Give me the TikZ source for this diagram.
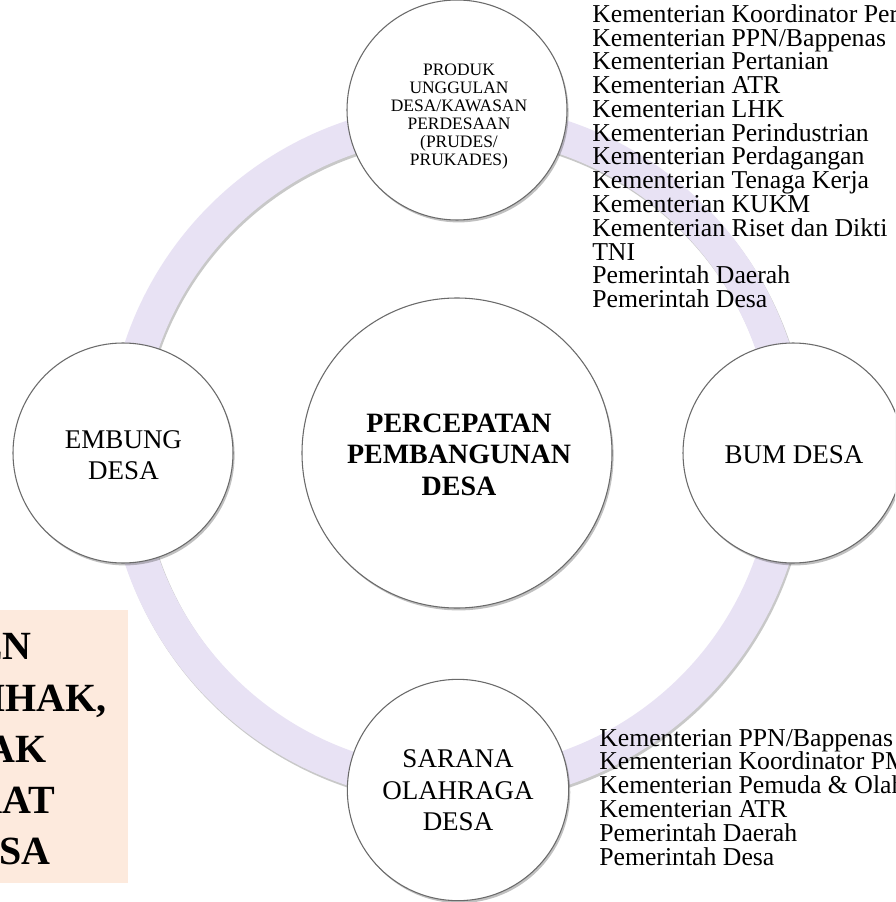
\documentclass[tikz,border=0pt]{standalone}
\usepackage{fontspec}
\setmainfont{Liberation Serif}
\usetikzlibrary{shadows}
\definecolor{ringc}{HTML}{E8E2F4}
\definecolor{peach}{HTML}{FDEADD}
\definecolor{edgec}{HTML}{6A6A6A}
\tikzset{
  bubble/.style={circle, draw=edgec, line width=0.8pt, fill=white, inner sep=0pt,
    drop shadow={shadow xshift=1.2pt, shadow yshift=-1.8pt, opacity=0.35, fill=black!70}},
  linetxt/.style={inner sep=0pt, anchor=base},
  listtxt/.style={inner sep=0pt, anchor=base west, font=\fontsize{19.3pt}{20pt}\selectfont},
  smalltxt/.style={linetxt, font=\fontsize{13.1pt}{14pt}\selectfont},
  midtxt/.style={linetxt, font=\fontsize{20.25pt}{22pt}\selectfont},
  hubtxt/.style={linetxt, font=\fontsize{21pt}{23pt}\selectfont\bfseries},
  boxtxt/.style={inner sep=0pt, anchor=base east, font=\fontsize{30pt}{32pt}\selectfont\bfseries},
}
\begin{document}
\begin{tikzpicture}[x=0.75pt,y=-0.75pt]
\useasboundingbox (0,0) rectangle (895,902);
\clip (0,0) rectangle (895,902);
\fill[white] (0,0) rectangle (895,902);
\coordinate (hub) at (457,453);
% ring
\draw[line width=25.5pt, black!30, opacity=0.7] ([shift={(1.5,2.5)}]hub) circle[radius=249.75pt];
\draw[line width=25.5pt, ringc] (hub) circle[radius=249.75pt];
% peach box
\fill[peach] (0,610) rectangle (128,883);
% circles
\node[bubble, minimum size=165pt] (top) at (457,110) {};
\node[bubble, minimum size=165pt] (left) at (123,453) {};
\node[bubble, minimum size=165pt] (right) at (793,453) {};
\node[bubble, minimum size=166pt] (bottom) at (458,790) {};
\node[bubble, minimum size=232.5pt] (hubc) at (457,453) {};
% top circle text
\foreach \t [count=\i from 0] in {{PRODUK},{UNGGULAN},{DESA/KAWASAN},{PERDESAAN},{(PRUDES/},{PRUKADES)}}
  \node[smalltxt] (p\i) at ({459},{76+\i*17.9}) {\t};
% hub text
\foreach \t [count=\i from 0] in {PERCEPATAN,PEMBANGUNAN,DESA}
  \node[hubtxt] (h\i) at ({459},{432+\i*31.5}) {\t};
% left
\foreach \t [count=\i from 0] in {EMBUNG,DESA}
  \node[midtxt] (e\i) at ({123.5},{448+\i*31.5}) {\t};
% right
\node[midtxt] (b0) at (794,463) {BUM DESA};
% bottom
\foreach \t [count=\i from 0] in {SARANA,OLAHRAGA,DESA}
  \node[midtxt] (s\i) at ({458},{767.5+\i*31.5}) {\t};
% top list
\foreach \t [count=\i from 0] in {Kementerian Koordinator Per,Kementerian PPN/Bappenas,Kementerian Pertanian,Kementerian ATR,Kementerian LHK,Kementerian Perindustrian,Kementerian Perdagangan,Kementerian Tenaga Kerja,Kementerian KUKM,Kementerian Riset dan Dikti,TNI,Pemerintah Daerah,Pemerintah Desa}
  \node[listtxt] (ta\i) at ({592},{22.5+\i*23.75}) {\t};
% bottom list
\foreach \t [count=\i from 0] in {Kementerian PPN/Bappenas,Kementerian Koordinator PM,Kementerian Pemuda \& Olah,Kementerian ATR,Pemerintah Daerah,Pemerintah Desa}
  \node[listtxt] (tb\i) at ({599},{746+\i*23.8}) {\t};
% box text
\node[boxtxt] (k0) at (32,659) {EN};
\node[boxtxt] (k1) at (107,711) {IHAK,};
\node[boxtxt] (k2) at (47,762) {AK};
\node[boxtxt] (k3) at (55,813) {KAT};
\node[boxtxt] (k4) at (51,864) {ESA};
\end{tikzpicture}
\end{document}
